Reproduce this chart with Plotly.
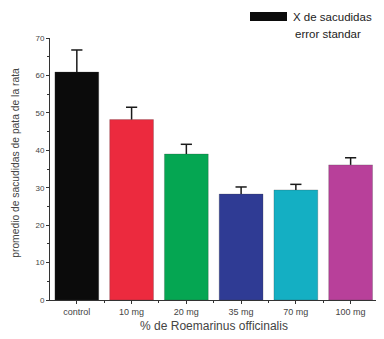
import plotly.graph_objects as go

categories = ["control", "10 mg", "20 mg", "35 mg", "70 mg", "100 mg"]
means = [60.9, 48.2, 39.0, 28.3, 29.4, 36.1]
errors = [5.9, 3.3, 2.6, 1.9, 1.5, 1.9]
colors = ["#0b0b0b", "#ec2a3e", "#05a652", "#2f3b94", "#14afc3", "#b8409a"]
y_ticks = [0, 10, 20, 30, 40, 50, 60, 70]

xpos = list(range(len(categories)))
tops = [m + e for m, e in zip(means, errors)]
font = "Liberation Sans, Arial, sans-serif"

fig = go.Figure()
fig.add_trace(go.Bar(
    x=xpos, y=means, width=0.8,
    marker=dict(color=colors, line=dict(color="rgba(60,60,60,0.5)", width=0.5)),
    showlegend=False,
))
# one-sided error bars: stem from bar top up to mean+error, plus a cap
ex, ey = [], []
for x, m, t in zip(xpos, means, tops):
    ex += [x, x, None]
    ey += [m, t, None]
fig.add_trace(go.Scatter(x=ex, y=ey, mode="lines", line=dict(color="#1a1a1a", width=1.5),
                         showlegend=False, hoverinfo="skip"))
fig.add_trace(go.Scatter(x=xpos, y=tops, mode="markers",
                         marker=dict(symbol="line-ew", size=8, line=dict(color="#1a1a1a", width=1.5)),
                         showlegend=False, hoverinfo="skip"))

PW, PH = 328.0, 262.5  # plot-area size in px
PL, PB = 50.0, 300.5   # plot left / bottom in screen px

# page body has an 8px margin; compensate so the plot lands where the reference has it
fig.update_layout(
    width=376, height=331,
    margin=dict(l=42, r=6, t=30, b=38.5),
    paper_bgcolor="white", plot_bgcolor="white",
    font=dict(family=font, color="#444", size=9),
    xaxis=dict(
        range=[-0.49, 5.5], tickmode="array", tickvals=xpos, ticktext=categories,
        showline=True, linecolor="#333", linewidth=1, showgrid=False, zeroline=False,
        ticks="outside", ticklen=3, tickcolor="#333", tickfont=dict(size=9, color="#444"),
        minor=dict(tickmode="array", tickvals=[i + 0.5 for i in xpos],
                   ticks="outside", ticklen=2, tickcolor="#333", showgrid=False),
        title=dict(text="% de Roemarinus officinalis", font=dict(size=12, color="#444"), standoff=5),
    ),
    yaxis=dict(
        range=[0, 70], tickmode="array", tickvals=y_ticks,
        showline=True, linecolor="#333", linewidth=1, showgrid=False, zeroline=False,
        ticks="outside", ticklen=3, tickcolor="#333", tickfont=dict(size=8, color="#444"),
        minor=dict(dtick=5, ticks="outside", ticklen=2, tickcolor="#333", showgrid=False),
    ),
)

fig.add_annotation(xref="paper", yref="paper", x=(16 - PL) / PW, y=(PB - 163) / PH,
                   text="promedio de sacudidas de pata de la rata", textangle=-90,
                   showarrow=False, xanchor="center", yanchor="middle",
                   font=dict(size=10.3, color="#444"))

# legend drawn manually
fig.add_shape(type="rect", xref="paper", yref="paper",
              x0=(250 - PL) / PW, x1=(287 - PL) / PW,
              y0=(PB - 21) / PH, y1=(PB - 12) / PH,
              fillcolor="#0b0b0b", line=dict(width=0))
fig.add_annotation(xref="paper", yref="paper", x=(291 - PL) / PW, y=(PB - 16.5) / PH,
                   text="X de sacudidas", showarrow=False, xanchor="left", yanchor="middle",
                   font=dict(size=11.5, color="#222"))
fig.add_annotation(xref="paper", yref="paper", x=(293 - PL) / PW, y=(PB - 33.5) / PH,
                   text="error standar", showarrow=False, xanchor="left", yanchor="middle",
                   font=dict(size=11.5, color="#222"))

fig.write_html("out.html")
